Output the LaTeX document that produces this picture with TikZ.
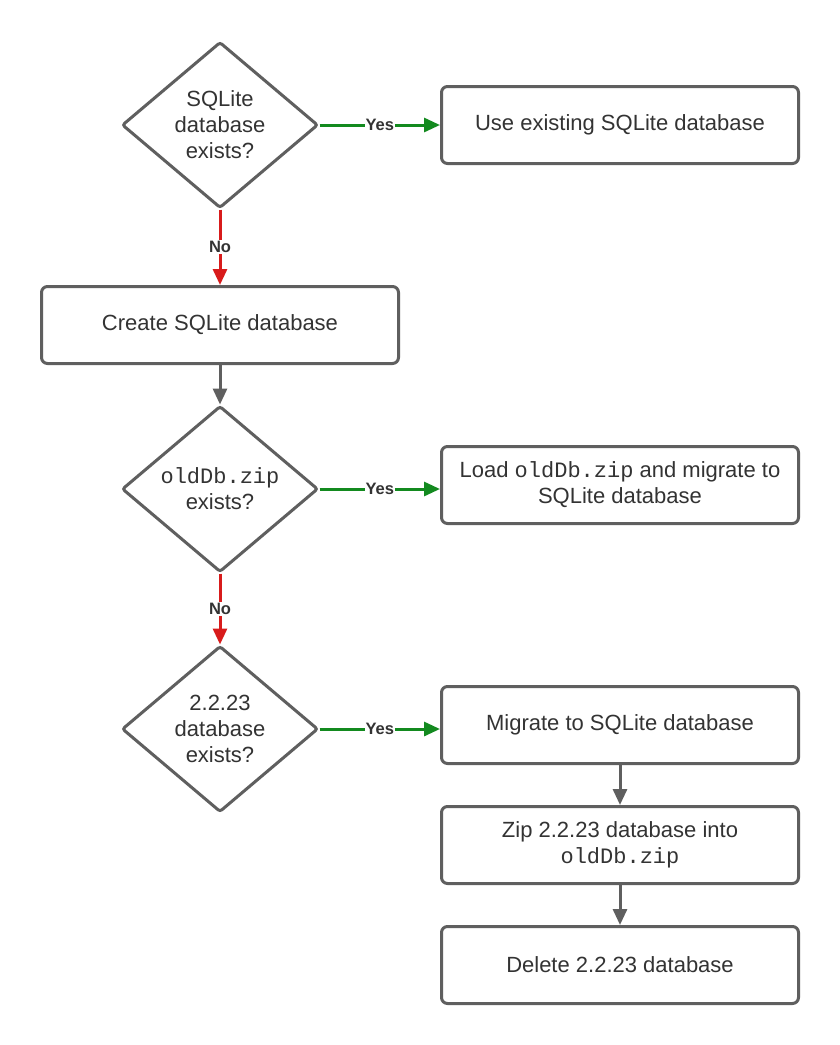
\documentclass[tikz,border=0pt]{standalone}
\usepackage{fontspec}
\setmainfont{Liberation Sans}
\setmonofont{Liberation Mono}
\usetikzlibrary{shapes.geometric,arrows.meta}
\definecolor{edgegray}{HTML}{5F5F5F}
\definecolor{txtgray}{HTML}{333333}
\definecolor{yesgreen}{HTML}{138A1F}
\definecolor{nored}{HTML}{D81B1B}
\begin{document}
\begin{tikzpicture}[x=1pt,y=-1pt,
  box/.style={draw=edgegray, line width=3pt, rounded corners=6pt,
    minimum width=357pt, minimum height=77pt, inner sep=0pt,
    text=txtgray, font=\fontsize{22}{26}\selectfont, align=center, fill=white},
  decision/.style={diamond, draw=edgegray, line width=3pt, rounded corners=2.5pt,
    minimum width=196pt, minimum height=166pt, aspect=1.18, inner sep=0pt,
    text=txtgray, font=\fontsize{22}{26}\selectfont, align=center, fill=white},
  flow/.style={line width=3pt, draw=edgegray, -{Triangle[length=16pt,width=14pt]}},
  yesarrow/.style={flow, draw=yesgreen},
  noarrow/.style={flow, draw=nored},
  lab/.style={font=\fontsize{16.5}{19}\selectfont\bfseries, text=txtgray, fill=white, inner sep=1pt}
]
\fill[white] (0,0) rectangle (840,1045);
\useasboundingbox (0,0) rectangle (840,1045);

\node[decision] (d1) at (220,125) {SQLite\\database\\exists?};
\node[box] (use) at (620,125) {Use existing SQLite database};
\node[box] (create) at (220,325) {Create SQLite database};
\node[decision] (d2) at (220,489) {\texttt{oldDb.zip}\\exists?};
\node[box] (load) at (620,485) {Load \texttt{oldDb.zip} and migrate to\\SQLite database};
\node[decision] (d3) at (220,729) {2.2.23\\database\\exists?};
\node[box] (migrate) at (620,725) {Migrate to SQLite database};
\node[box] (zip) at (620,845) {Zip 2.2.23 database into\\\texttt{oldDb.zip}};
\node[box] (delete) at (620,965) {Delete 2.2.23 database};

\draw[yesarrow] (d1.east) -- node[lab]{Yes} (d1.east -| use.west);
\draw[noarrow] (d1.south) -- node[lab]{No} (create.north);
\draw[flow] (create.south) -- (d2.north);
\draw[yesarrow] (d2.east) -- node[lab]{Yes} (d2.east -| load.west);
\draw[noarrow] (d2.south) -- node[lab]{No} (d3.north);
\draw[yesarrow] (d3.east) -- node[lab]{Yes} (d3.east -| migrate.west);
\draw[flow] (migrate.south) -- (zip.north);
\draw[flow] (zip.south) -- (delete.north);
\end{tikzpicture}
\end{document}
